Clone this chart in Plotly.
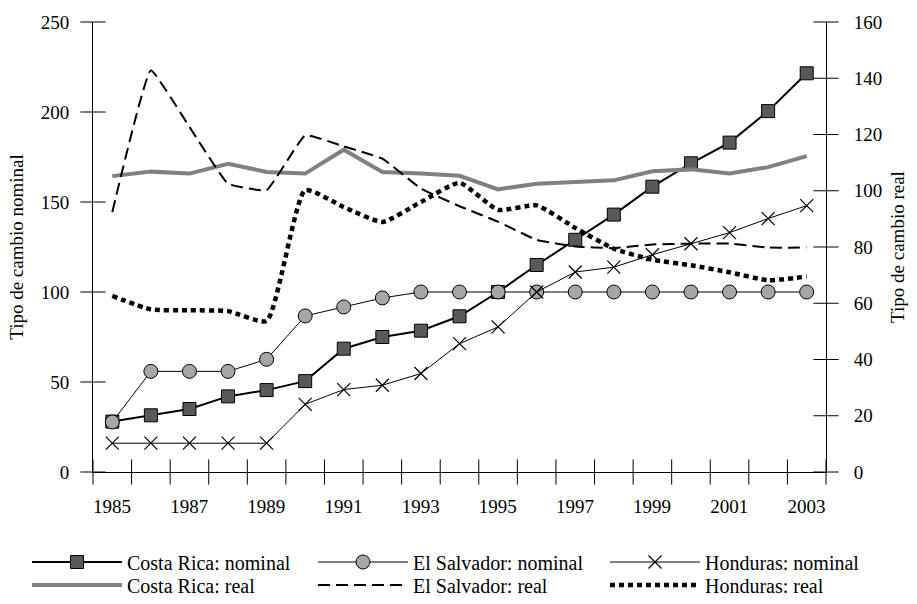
import plotly.graph_objects as go

years = list(range(1985, 2004))
cr_nominal = [28, 31.5, 35, 42, 45.5, 50.5, 68.5, 75, 78.5, 86.5, 100, 115, 129, 143, 158.5, 171.5, 183, 200.5, 221.5]
es_nominal = [27.8, 55.9, 55.9, 55.9, 62.6, 86.7, 91.7, 96.7, 100, 100, 100, 100, 100, 100, 100, 100, 100, 100, 100]
hn_nominal = [16, 16, 16, 16, 16, 37.6, 45.8, 48.2, 54.7, 71.3, 80.6, 100, 111.1, 113.8, 120.7, 126.8, 133, 140.8, 148]
cr_real = [105.2, 106.8, 106.1, 109.6, 106.7, 106.1, 114.6, 106.7, 106.1, 105.3, 100.5, 102.5, 103.1, 103.7, 106.9, 107.6, 106.1, 108.4, 112.3]
es_real = [92.4, 142.8, 122.7, 102.5, 100.2, 119.7, 115.8, 111.4, 100.8, 94.5, 89, 82.5, 80.2, 79.6, 80.9, 81.2, 81.2, 79.8, 79.8]
hn_real = [62.6, 57.8, 57.5, 57.2, 53.7, 100.2, 94.2, 88.9, 96, 102.8, 93.2, 94.8, 86.8, 79.4, 75.5, 73.5, 71, 68.2, 69.5]

left_ticks = [0, 50, 100, 150, 200, 250]
right_ticks = [0, 20, 40, 60, 80, 100, 120, 140, 160]
# category boundaries carry the tick marks; labels on every other year
x_bounds = [y - 0.5 for y in years] + [years[-1] + 0.5]
x_text = [str(y) if (y - years[0]) % 2 == 0 else "" for y in years] + [""]

FONT = "Liberation Serif"

fig = go.Figure()
fig.add_trace(go.Scatter(x=years, y=cr_nominal, name="Costa Rica: nominal", mode="lines+markers",
                         line=dict(color="black", width=2),
                         marker=dict(symbol="square", size=13, color="#595959", line=dict(color="black", width=1)),
                         legend="legend"))
fig.add_trace(go.Scatter(x=years, y=es_nominal, name="El Salvador: nominal", mode="lines+markers",
                         line=dict(color="black", width=1),
                         marker=dict(symbol="circle", size=14, color="#a6a6a6", line=dict(color="black", width=1)),
                         legend="legend2"))
fig.add_trace(go.Scatter(x=years, y=hn_nominal, name="Honduras: nominal", mode="lines+markers",
                         line=dict(color="black", width=1),
                         marker=dict(symbol="x-thin", size=13, color="black", line=dict(color="black", width=1.2)),
                         legend="legend3"))
fig.add_trace(go.Scatter(x=years, y=cr_real, name="Costa Rica: real", mode="lines", yaxis="y2",
                         line=dict(color="#808080", width=4),
                         legend="legend4"))
fig.add_trace(go.Scatter(x=years, y=es_real, name="El Salvador: real", mode="lines", yaxis="y2",
                         line=dict(color="black", width=2, dash="12px,6px", shape="spline", smoothing=0.3),
                         legend="legend5"))
fig.add_trace(go.Scatter(x=years, y=hn_real, name="Honduras: real", mode="lines", yaxis="y2",
                         line=dict(color="black", width=4.5, dash="5px,4px", shape="spline", smoothing=0.5),
                         legend="legend6"))

# crossing tick marks (centred line markers on the axis lines, positions taken from the tick lists)
tick_style = dict(mode="markers", showlegend=False, hoverinfo="skip", cliponaxis=False)
fig.add_trace(go.Scatter(x=x_bounds, y=[left_ticks[0]] * len(x_bounds), yaxis="y",
                         marker=dict(symbol="line-ns", size=18, line=dict(color="black", width=1)), **tick_style))
fig.add_trace(go.Scatter(x=[x_bounds[0]] * len(left_ticks), y=left_ticks, yaxis="y",
                         marker=dict(symbol="line-ew", size=18, line=dict(color="black", width=1)), **tick_style))
fig.add_trace(go.Scatter(x=[x_bounds[-1]] * len(right_ticks), y=right_ticks, yaxis="y2",
                         marker=dict(symbol="line-ew", size=18, line=dict(color="black", width=1)), **tick_style))

tickfont = dict(family=FONT, size=19, color="black")


def leg(px, py):
    # positions given in figure pixels, converted to paper fractions of the 733x450 plot area
    return dict(orientation="v", font=dict(family=FONT, size=20, color="black"), itemwidth=90,
                xanchor="left", x=(px - 93) / 733.0, yanchor="middle", y=(472 - py) / 450.0,
                bgcolor="rgba(0,0,0,0)")


base_ax = dict(showgrid=False, zeroline=False, automargin=False, ticks="")

fig.update_layout(
    template="none",
    width=917, height=604,
    margin=dict(l=93, r=91, t=22, b=132, pad=0, autoexpand=False),
    paper_bgcolor="white", plot_bgcolor="white",
    font=dict(family=FONT, size=19, color="black"),
    xaxis=dict(base_ax, range=[x_bounds[0], x_bounds[-1]], tickmode="array", tickvals=x_bounds,
               ticktext=x_text, ticklabelshift=19, ticklabelstandoff=17,
               showline=True, linecolor="black", linewidth=1, tickfont=tickfont),
    yaxis=dict(base_ax, range=[0, 250], tickmode="array", tickvals=left_ticks, ticklabelstandoff=19,
               showline=True, linecolor="black", linewidth=1, tickfont=tickfont,
               title=dict(text="Tipo de cambio nominal", font=dict(family=FONT, size=19), standoff=12)),
    yaxis2=dict(base_ax, range=[0, 160], overlaying="y", anchor="x", side="right", tickmode="array",
                tickvals=right_ticks, ticklabelstandoff=23,
                showline=True, linecolor="black", linewidth=1, tickfont=tickfont,
                title=dict(text="Tipo de cambio real", font=dict(family=FONT, size=19), standoff=9)),
    legend=leg(27, 562),
    legend2=leg(313, 562),
    legend3=leg(605, 562),
    legend4=leg(27, 585),
    legend5=leg(313, 585),
    legend6=leg(605, 585),
    showlegend=True,
    hovermode=False,
)

fig.write_html("out.html", config={"displayModeBar": False, "staticPlot": True},
               post_script="document.body.style.margin='0px';")
